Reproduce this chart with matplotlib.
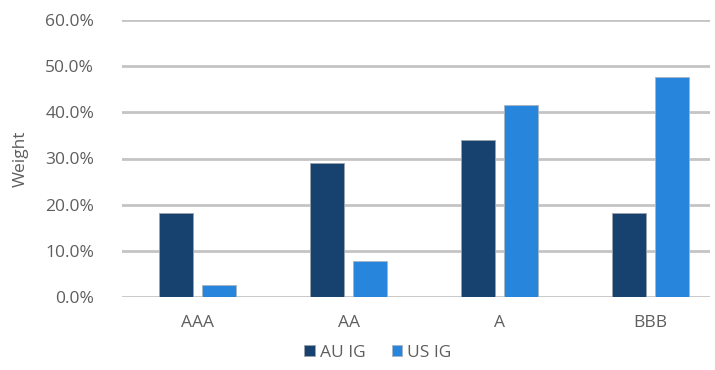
import matplotlib
matplotlib.use("Agg")
import matplotlib.pyplot as plt
import numpy as np

categories = ["AAA", "AA", "A", "BBB"]
au_ig = [18.2, 29.0, 34.1, 18.1]
us_ig = [2.6, 7.8, 41.5, 47.7]
yticks = [0, 10, 20, 30, 40, 50, 60]
series_names = ["AU IG", "US IG"]

plt.rcParams['font.family'] = ['Open Sans', 'DejaVu Sans']

W, H = 715, 370
fig = plt.figure(figsize=(W/100, H/100), dpi=100)
ax = fig.add_axes([122/W, 1-297/H, (710-122)/W, (297-20)/H])

x = np.arange(len(categories))
bw = 0.225
off = 0.143
dark = "#17416E"
light = "#2785DC"
ax.bar(x - off, au_ig, bw, color=dark, edgecolor="#9aa3ad", linewidth=0.6, label=series_names[0], zorder=3)
ax.bar(x + off, us_ig, bw, color=light, edgecolor="#a8b4c0", linewidth=0.6, label=series_names[1], zorder=3)

ax.set_xlim(-0.5, 3.5 - 16/151)
ax.set_ylim(0, 60)
ax.set_yticks(yticks)
ax.set_yticklabels([f"{v:.1f}%" for v in yticks])
ax.set_xticks(x)
ax.set_xticklabels(categories)
ax.yaxis.grid(True, color="#C4C4C4", linewidth=2, zorder=0)
ax.set_axisbelow(True)
for s in ax.spines.values():
    s.set_visible(False)
ax.tick_params(axis='both', length=0, labelsize=12.5, labelcolor="#5E5E5E")
ax.tick_params(axis='y', pad=20)
ax.tick_params(axis='x', pad=13)
ax.set_ylabel("Weight", fontsize=12.5, color="#5E5E5E", labelpad=12)

leg = fig.legend(loc="center", bbox_to_anchor=(378/W, 1-353/H), ncol=2, frameon=False,
                 fontsize=12.5, handlelength=0.6, handleheight=0.6, handletextpad=0.3,
                 columnspacing=1.5)
for t in leg.get_texts():
    t.set_color("#5E5E5E")

fig.savefig("out.png", dpi=100)
